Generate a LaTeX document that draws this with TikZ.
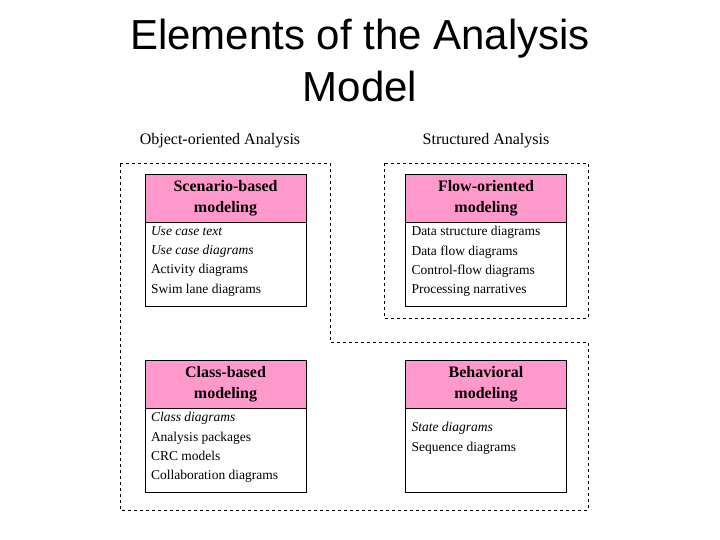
\documentclass[tikz,border=0pt]{standalone}
\usepackage{fontspec}
\setmainfont{Liberation Serif}
\newfontfamily\titlefont{Liberation Sans}
\definecolor{pinkhd}{RGB}{255,153,204}
\begin{document}
\begin{tikzpicture}[x=1pt,y=-1pt,
  hd/.style={draw,fill=pinkhd,minimum width=161pt,minimum height=48pt,inner sep=0pt,align=center,font=\fontsize{16}{21}\selectfont\bfseries},
  bd/.style={draw,fill=white,minimum width=161pt,inner sep=0pt,anchor=north},
  bt/.style={anchor=north west,align=left,inner sep=0pt,font=\fontsize{13.5}{19.3}\selectfont},
  dsh/.style={dashed,line width=0.8pt},
  lab/.style={font=\fontsize{16}{20}\selectfont}]
\useasboundingbox (0,0) rectangle (720,540);
\node[font=\titlefont\fontsize{42}{52}\selectfont,align=center] (title) at (360,60) {Elements of the Analysis\\Model};
\node[lab] (ooa) at (220,141) {Object-oriented Analysis};
\node[lab] (sa) at (486,141) {Structured Analysis};
\draw[dsh] (120,163) -- (330,163) -- (330,342) -- (588,342) -- (588,510) -- (120,510) -- cycle;
\draw[dsh] (384,163) rectangle (588,318);
% boxes
\node[hd] (h1) at (225.5,198) {Scenario-based\\modeling};
\node[bd,minimum height=84pt] (b1) at (h1.south) {};
\node[bt] (t1) at ([xshift=6pt,yshift=-4pt]b1.north west) {\itshape Use case text\\\itshape Use case diagrams\\Activity diagrams\\Swim lane diagrams};
\node[hd] (h2) at (486,198) {Flow-oriented\\modeling};
\node[bd,minimum height=84pt] (b2) at (h2.south) {};
\node[bt] (t2) at ([xshift=6pt,yshift=-4pt]b2.north west) {Data structure diagrams\\Data flow diagrams\\Control-flow diagrams\\Processing narratives};
\node[hd] (h3) at (225.5,384) {Class-based\\modeling};
\node[bd,minimum height=84pt] (b3) at (h3.south) {};
\node[bt] (t3) at ([xshift=6pt,yshift=-4pt]b3.north west) {\itshape Class diagrams\\Analysis packages\\CRC models\\Collaboration diagrams};
\node[hd] (h4) at (486,384) {Behavioral\\modeling};
\node[bd,minimum height=84pt] (b4) at (h4.south) {};
\node[bt] (t4) at ([xshift=6pt,yshift=-14pt]b4.north west) {\itshape State diagrams\\Sequence diagrams};
\end{tikzpicture}
\end{document}
